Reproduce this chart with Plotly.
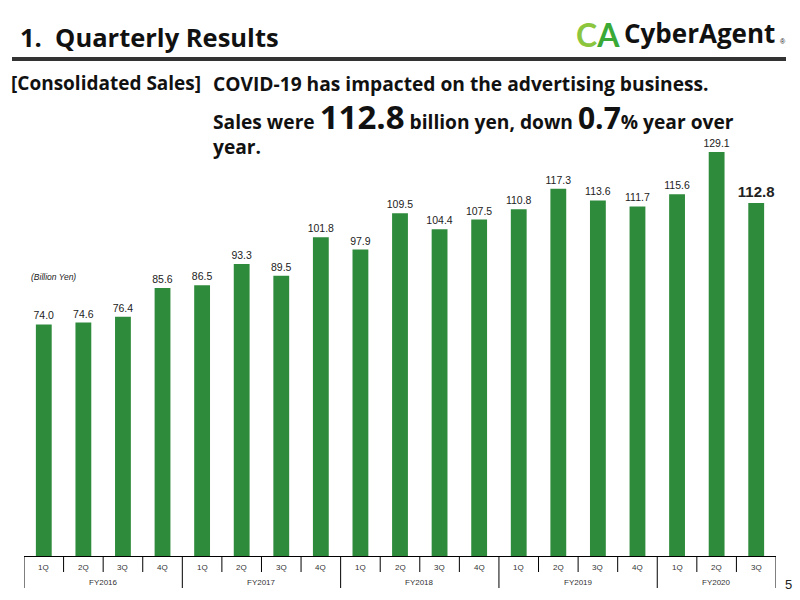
import plotly.graph_objects as go

years = ["FY2016"]*4 + ["FY2017"]*4 + ["FY2018"]*4 + ["FY2019"]*4 + ["FY2020"]*3
quarters = ["1Q", "2Q", "3Q", "4Q"]*4 + ["1Q", "2Q", "3Q"]
sales = [74.0, 74.6, 76.4, 85.6, 86.5, 93.3, 89.5, 101.8, 97.9, 109.5, 104.4, 107.5,
         110.8, 117.3, 113.6, 111.7, 115.6, 129.1, 112.8]
year_names = ["FY2016", "FY2017", "FY2018", "FY2019", "FY2020"]

cats = [f"{y} {q}" for y, q in zip(years, quarters)]

W, H = 800, 600
ML, MR, MT, MB = 24, 24, 100, 44
PW, PH = W - ML - MR, H - MT - MB

def px(x):
    return (x - ML) / PW

def py(y):
    return (H - MB - y) / PH

labels = [f"{v:.1f}" for v in sales]
labels[-1] = f"<b>{sales[-1]:.1f}</b>"
sizes = [10.5] * len(sales)
sizes[-1] = 15

GREEN = "#2e8b3c"
fig = go.Figure(go.Bar(
    x=cats, y=sales,
    marker=dict(color=GREEN, line=dict(width=0)),
    text=labels, textposition="outside", cliponaxis=False, constraintext="none",
    textfont=dict(family="Liberation Sans", size=sizes, color="#222"),
))

fig.update_layout(
    width=W, height=H, margin=dict(l=ML, r=MR, t=MT, b=MB),
    paper_bgcolor="white", plot_bgcolor="white", showlegend=False, bargap=0.6,
    xaxis=dict(type="category", showline=True, linecolor="#000", linewidth=1,
               showticklabels=False, ticks="", showgrid=False, range=[-0.5, len(cats) - 0.5]),
    yaxis=dict(range=[0, PH / 3.13], visible=False, showgrid=False),
)

ann = []
def A(text, x, y, size, color="#111", family="Open Sans", xanchor="left", yanchor="middle",
      xref="paper"):
    ann.append(dict(text=text, x=px(x) if xref == "paper" else x, y=py(y), xref=xref, yref="paper",
                    showarrow=False, xanchor=xanchor, yanchor=yanchor,
                    font=dict(family=family, size=size, color=color)))

# category axis: quarter labels, year labels, separators
shapes = []
for i in range(len(cats) + 1):
    b = i - 0.5
    is_year = i == len(cats) or i == 0 or years[i] != years[i - 1]
    shapes.append(dict(type="line", xref="x", yref="paper", x0=b, x1=b,
                       y0=py(556), y1=py(588 if is_year else 572),
                       line=dict(color="#000", width=1)))
for i, q in enumerate(quarters):
    A(q, i, 567, 8, color="#333", family="Liberation Sans", xanchor="center", xref="x")
for yn in year_names:
    idx = [i for i, y in enumerate(years) if y == yn]
    A(yn, (idx[0] + idx[-1]) / 2, 582, 8, color="#333", family="Liberation Sans",
      xanchor="center", xref="x")

A("<b>1.  Quarterly Results</b>", 18, 37, 25.5)
A("<b>[Consolidated Sales]</b>", 9, 83, 19)
A("<b>COVID-19 has impacted on the advertising business.</b>", 211, 83, 19.2)
A("<b>Sales were <span style='font-size:33px'>112.8</span> billion yen, down "
  "<span style='font-size:30px'>0.7</span>% year over</b>", 211, 117, 19.2)
A("<b>year.</b>", 211, 146, 19.2)
A("<i>(Billion Yen)</i>", 29, 277, 8.5, color="#222", family="Liberation Sans")
A("<b><span style='color:#8cc63f'>C</span><span style='color:#3aa935'>A</span></b>",
  574, 34, 32, family="Lato")
A("<b>CyberAgent</b>", 622, 33, 26, color="#111", family="Open Sans")
A("®", 778, 41, 7, color="#111", family="Liberation Sans")
A("5", 783, 584, 13, color="#222", family="Liberation Sans")

shapes.append(dict(type="line", xref="paper", yref="paper", x0=px(12), x1=px(786),
                   y0=py(59), y1=py(59), line=dict(color="#333", width=4)))
fig.update_layout(annotations=ann, shapes=shapes)

fig.write_html("out.html")
